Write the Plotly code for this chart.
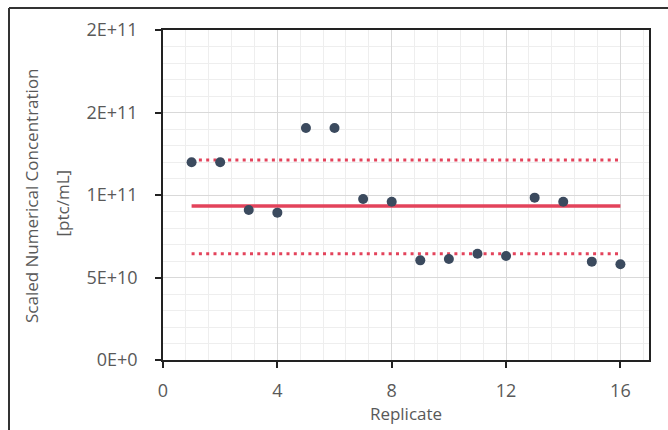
import plotly.graph_objects as go

# Replicate measurements of scaled numerical concentration
replicates = list(range(1, 17))
concentration = [
    1.198e11, 1.198e11, 9.09e10, 8.93e10, 1.406e11, 1.406e11, 9.76e10, 9.59e10,
    6.04e10, 6.12e10, 6.44e10, 6.30e10, 9.84e10, 9.59e10, 5.96e10, 5.80e10,
]

# Reference lines: mean and upper / lower limits
mean_value = 9.33e10
upper_limit = 1.212e11
lower_limit = 6.44e10
line_span = [1, 16]

# Axis ticks
x_ticks = [0, 4, 8, 12, 16]
y_ticks = [0, 5e10, 1e11, 1.5e11, 2e11]
y_tick_text = ["0E+0", "5E+10", "1E+11", "2E+11", "2E+11"]

RED = "#e3435b"
DOT = "#3b4a5e"
TEXT = "#595959"
FONT = "Open Sans"

fig = go.Figure()

fig.add_trace(go.Scatter(
    x=line_span, y=[upper_limit, upper_limit], mode="lines",
    line=dict(color=RED, width=3, dash="3px,4.3px"), hoverinfo="skip",
))
fig.add_trace(go.Scatter(
    x=line_span, y=[lower_limit, lower_limit], mode="lines",
    line=dict(color=RED, width=3, dash="3px,4.3px"), hoverinfo="skip",
))
fig.add_trace(go.Scatter(
    x=line_span, y=[mean_value, mean_value], mode="lines",
    line=dict(color=RED, width=3.5), hoverinfo="skip",
))
fig.add_trace(go.Scatter(
    x=replicates, y=concentration, mode="markers",
    marker=dict(color=DOT, size=10),
))

ML, MR, MT, MB = 163, 19, 30, 70
W, H = 668, 430
pw, ph = W - ML - MR, H - MT - MB


def px_x(p):
    return (p - ML) / pw


def px_y(p):
    return (H - MB - p) / ph


# Outer frame (left and top edges)
frame = dict(color="#333333", width=2)
fig.add_shape(type="line", xref="paper", yref="paper",
              x0=px_x(9), x1=px_x(9), y0=px_y(440), y1=px_y(8), line=frame)
fig.add_shape(type="line", xref="paper", yref="paper",
              x0=px_x(9), x1=px_x(680), y0=px_y(8), y1=px_y(8), line=frame)

# Two-line y-axis title
fig.add_annotation(text="Scaled Numerical Concentration", xref="paper", yref="paper",
                   x=px_x(31), y=px_y(196), textangle=-90, showarrow=False,
                   font=dict(family=FONT, size=17, color=TEXT),
                   xanchor="center", yanchor="middle")
fig.add_annotation(text="[ptc/mL]", xref="paper", yref="paper",
                   x=px_x(62.5), y=px_y(203), textangle=-90, showarrow=False,
                   font=dict(family=FONT, size=17, color=TEXT),
                   xanchor="center", yanchor="middle")

axis_common = dict(
    showline=True, linecolor="#222222", linewidth=1.5, mirror=True,
    ticks="outside", ticklen=6, tickwidth=1.5, tickcolor="#222222",
    showgrid=True, gridcolor="#d9d9d9", gridwidth=1, zeroline=False,
    tickfont=dict(family=FONT, size=18, color=TEXT),
)

fig.update_xaxes(
    range=[0, 17], tickvals=x_ticks, ticktext=[str(v) for v in x_ticks],
    title=dict(text="Replicate", font=dict(family=FONT, size=17, color=TEXT), standoff=2),
    minor=dict(dtick=0.8, tick0=0, showgrid=True, gridcolor="#eeeeee", ticks=""),
    ticklabelstandoff=8,
    **axis_common,
)
fig.update_yaxes(
    range=[0, 2e11], tickvals=y_ticks, ticktext=y_tick_text,
    minor=dict(dtick=1e10, tick0=0, showgrid=True, gridcolor="#eeeeee", ticks=""),
    ticklabelstandoff=14,
    **axis_common,
)

fig.update_layout(
    width=W, height=H,
    margin=dict(l=ML, r=MR, t=MT, b=MB),
    paper_bgcolor="white", plot_bgcolor="white",
    showlegend=False,
    font=dict(family=FONT, color=TEXT),
)

fig.write_html("out.html")
